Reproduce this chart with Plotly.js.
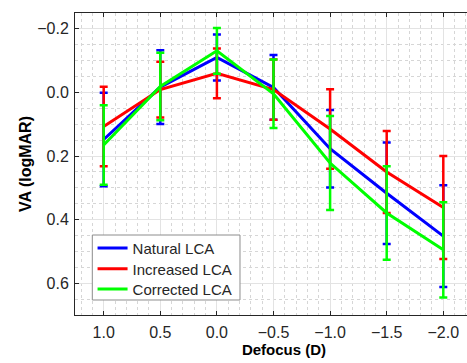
<!DOCTYPE html>
<html>
<head>
<meta charset="utf-8">
<script src="https://cdn.plot.ly/plotly-3.0.1.min.js"></script>
<style>html,body{margin:0;padding:0;background:#fff;overflow:hidden;}#chart{width:493px;height:363px;}</style>
</head>
<body>
<div id="chart"></div>
<script>
const defocus = [1.0, 0.5, 0.0, -0.5, -1.0, -1.5, -2.0];
const seriesNames = ["Natural LCA", "Increased LCA", "Corrected LCA"];
const naturalVA = [0.148, -0.017, -0.110, -0.016, 0.177, 0.317, 0.452];
const naturalErr = [0.147, 0.116, 0.072, 0.102, 0.122, 0.160, 0.160];
const increasedVA = [0.107, -0.009, -0.060, -0.009, 0.115, 0.250, 0.362];
const increasedErr = [0.125, 0.088, 0.078, 0.095, 0.125, 0.129, 0.162];
const correctedVA = [0.165, -0.019, -0.131, 0.004, 0.222, 0.379, 0.495];
const correctedErr = [0.125, 0.106, 0.072, 0.108, 0.148, 0.147, 0.150];
const xTickVals = [1.0, 0.5, 0.0, -0.5, -1.0, -1.5, -2.0];
const xTickText = ["1.0", "0.5", "0.0", "\u22120.5", "\u22121.0", "\u22121.5", "\u22122.0"];
const yTickVals = [-0.2, 0.0, 0.2, 0.4, 0.6];
const yTickText = ["\u22120.2", "0.0", "0.2", "0.4", "0.6"];

const colors = ["#0000ff", "#ff0000", "#00ff00"];
const vals = [naturalVA, increasedVA, correctedVA];
const errs = [naturalErr, increasedErr, correctedErr];
const legendIds = ["legend", "legend2", "legend3"];

const traces = seriesNames.map((n, i) => ({
  x: defocus, y: vals[i], name: n, type: "scatter", mode: "lines",
  legend: legendIds[i],
  line: {color: colors[i], width: 3},
  error_y: {type: "data", array: errs[i], visible: true, color: colors[i], thickness: 2.5, width: 4}
}));

const font = "Liberation Sans, Arial, Helvetica, sans-serif";
const legendRowsY = [0.221, 0.152, 0.085];
function legendAt(y) {
  return {x: 0.042, y: y, xanchor: "left", yanchor: "middle",
    bgcolor: "rgba(0,0,0,0)", borderwidth: 0,
    font: {family: font, size: 15, color: "#262626"}};
}
const layout = {
  width: 493, height: 363,
  margin: {l: 75, r: 0, t: 13, b: 48},
  paper_bgcolor: "#fff", plot_bgcolor: "#fff",
  font: {family: font, size: 16, color: "#262626"},
  showlegend: true,
  legend: legendAt(legendRowsY[0]),
  legend2: legendAt(legendRowsY[1]),
  legend3: legendAt(legendRowsY[2]),
  shapes: [{type: "rect", xref: "paper", yref: "paper",
    x0: 0.0414, x1: 0.3947, y0: 0.0497, y1: 0.2649,
    line: {color: "#8c8c8c", width: 1}, fillcolor: "#ffffff", layer: "above"}],
  xaxis: {
    range: [1.2535, -2.439], tickvals: xTickVals, ticktext: xTickText,
    ticks: "inside", ticklen: 4, tickcolor: "#262626", ticklabelstandoff: 3,
    tickfont: {family: font, size: 16, color: "#262626"},
    showline: true, linecolor: "#262626", linewidth: 1, mirror: "ticks",
    showgrid: true, gridcolor: "#e3e3e3", gridwidth: 1, zeroline: false,
    minor: {dtick: 0.1, showgrid: true, gridcolor: "#d6d6d6", griddash: "dot", gridwidth: 1},
    title: {text: "<b>Defocus (D)</b>", font: {family: font, size: 15, color: "#000"}, standoff: 4}
  },
  yaxis: {
    range: [0.7, -0.25], tickvals: yTickVals, ticktext: yTickText,
    ticks: "inside", ticklen: 4, tickcolor: "#262626", ticklabelstandoff: 2,
    tickfont: {family: font, size: 16, color: "#262626"},
    showline: true, linecolor: "#262626", linewidth: 1, mirror: "ticks",
    showgrid: true, gridcolor: "#e3e3e3", gridwidth: 1, zeroline: false,
    minor: {dtick: 0.05, showgrid: true, gridcolor: "#d6d6d6", griddash: "dot", gridwidth: 1},
    title: {text: "<b>VA (logMAR)</b>", font: {family: font, size: 16, color: "#000"}, standoff: 1}
  }
};
Plotly.newPlot("chart", traces, layout, {displayModeBar: false, staticPlot: true});
</script>
</body>
</html>
